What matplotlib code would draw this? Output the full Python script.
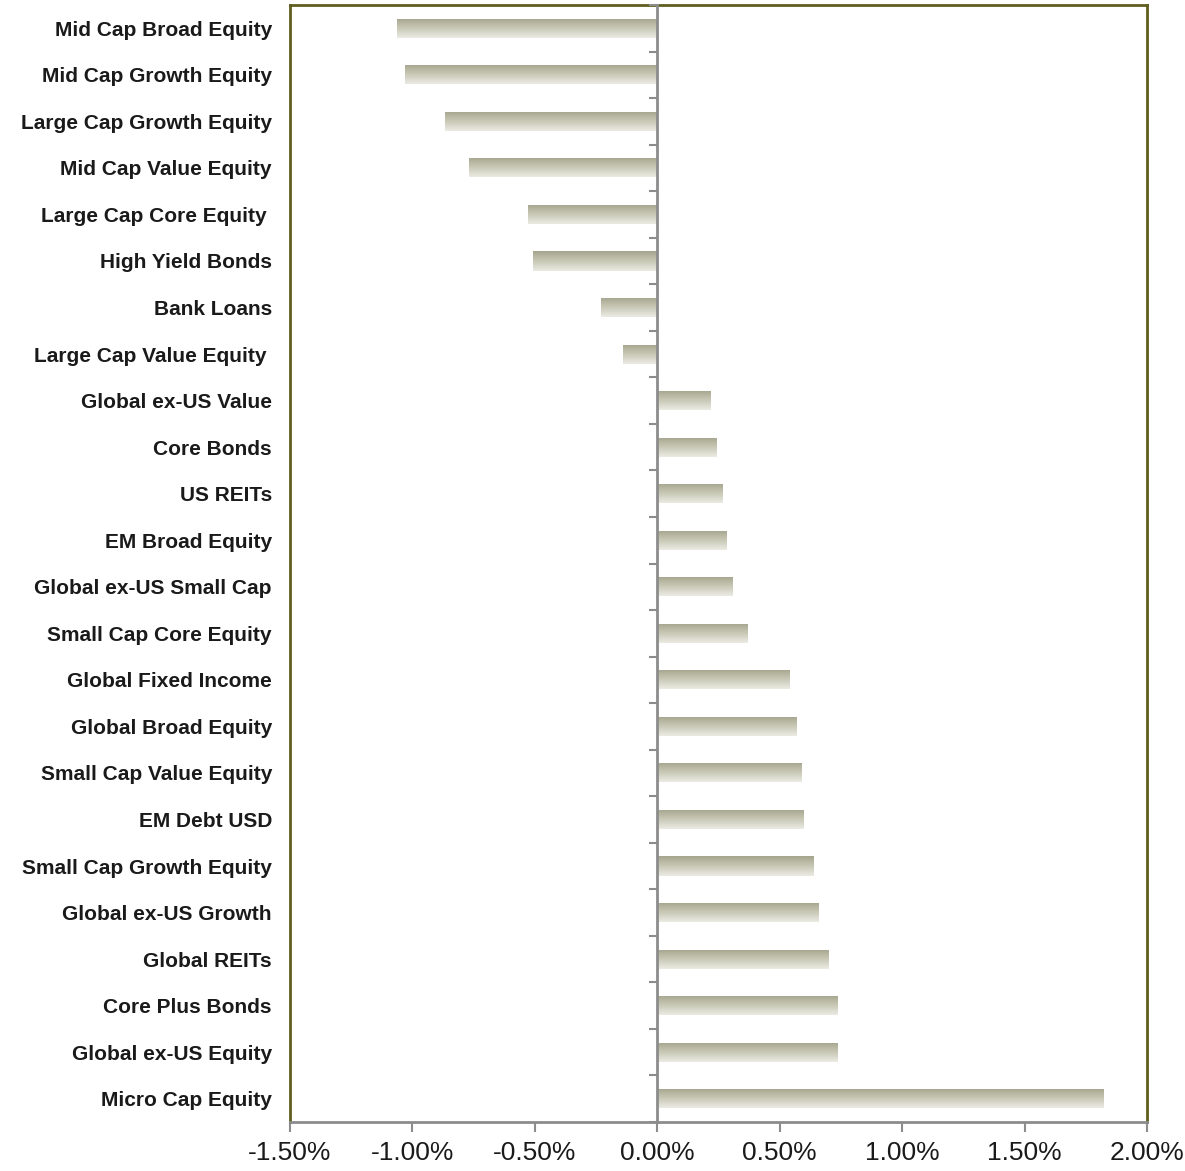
import numpy as np
import matplotlib
matplotlib.use("Agg")
from matplotlib import pyplot as plt
from matplotlib.ticker import FuncFormatter

# 字体
plt.rcParams['font.family'] = ['Liberation Sans', 'DejaVu Sans']

# 类别（自上而下）
categories = [
    "Mid Cap Broad Equity", "Mid Cap Growth Equity", "Large Cap Growth Equity",
    "Mid Cap Value Equity", "Large Cap Core Equity ", "High Yield Bonds",
    "Bank Loans", "Large Cap Value Equity ", "Global ex-US Value",
    "Core Bonds", "US REITs", "EM Broad Equity", "Global ex-US Small Cap",
    "Small Cap Core Equity", "Global Fixed Income", "Global Broad Equity",
    "Small Cap Value Equity", "EM Debt USD", "Small Cap Growth Equity",
    "Global ex-US Growth", "Global REITs", "Core Plus Bonds",
    "Global ex-US Equity", "Micro Cap Equity",
]
# 数值（%）
values = [
    -1.065, -1.029, -0.869, -0.767, -0.527, -0.506, -0.229, -0.139,
    0.220, 0.241, 0.269, 0.282, 0.310, 0.371, 0.543, 0.571,
    0.592, 0.600, 0.641, 0.661, 0.702, 0.739, 0.739, 1.824,
]
x_ticks = [-1.5, -1.0, -0.5, 0.0, 0.5, 1.0, 1.5, 2.0]

frame_col = '#5e5e1e'
axis_col = '#8c8c8c'

fig = plt.figure(figsize=(11.85, 11.71), dpi=100)
ax = fig.add_axes([290 / 1185, 1 - 1122 / 1171, 857 / 1185, 1117 / 1171])

ypos = np.arange(len(categories))
bars = ax.barh(ypos, values, height=0.41, color='none', edgecolor='none')

# 渐变填充：上深下浅
grad = np.linspace(0, 1, 64).reshape(-1, 1)
cmap = matplotlib.colors.LinearSegmentedColormap.from_list(
    'g', ['#a5a58e', '#c8c8b6', '#ebebe4'])
for rect in bars:
    x0 = rect.get_x()
    w = rect.get_width()
    y0 = rect.get_y()
    h = rect.get_height()
    im = ax.imshow(grad, cmap=cmap, aspect='auto',
                   extent=(x0, x0 + w, y0 + h, y0), zorder=2,
                   interpolation='bilinear')
    im.set_clip_path(rect)

ax.set_xlim(x_ticks[0], x_ticks[-1])
ax.set_ylim(len(categories) - 0.5, -0.5)
ax.set_yticks(ypos)
ax.set_yticklabels(categories, fontsize=15, fontweight='bold', color='#1a1a1a')
ax.tick_params(axis='y', length=0, pad=13)
ax.set_xticks(x_ticks)
ax.xaxis.set_major_formatter(FuncFormatter(lambda v, p: "%.2f%%" % v))
ax.tick_params(axis='x', direction='out', length=7, width=1.5, color=axis_col,
               labelsize=19, pad=7, labelcolor='#1a1a1a')

for s in ['left', 'top', 'right']:
    ax.spines[s].set_color(frame_col)
    ax.spines[s].set_linewidth(2)
ax.spines['bottom'].set_color(axis_col)
ax.spines['bottom'].set_linewidth(2)

# 零线及分隔刻度
ax2 = ax.twinx()
ax2.set_ylim(ax.get_ylim())
ax2.spines['right'].set_position(('data', 0))
ax2.spines['right'].set_color(axis_col)
ax2.spines['right'].set_linewidth(2)
for s in ['left', 'top', 'bottom']:
    ax2.spines[s].set_visible(False)
ax2.set_yticks(np.arange(len(categories) + 1) - 0.5)
ax2.tick_params(axis='y', direction='in', length=6, width=1.5,
                color=axis_col, labelright=False)

fig.savefig("out.png", dpi=100, facecolor='white')
